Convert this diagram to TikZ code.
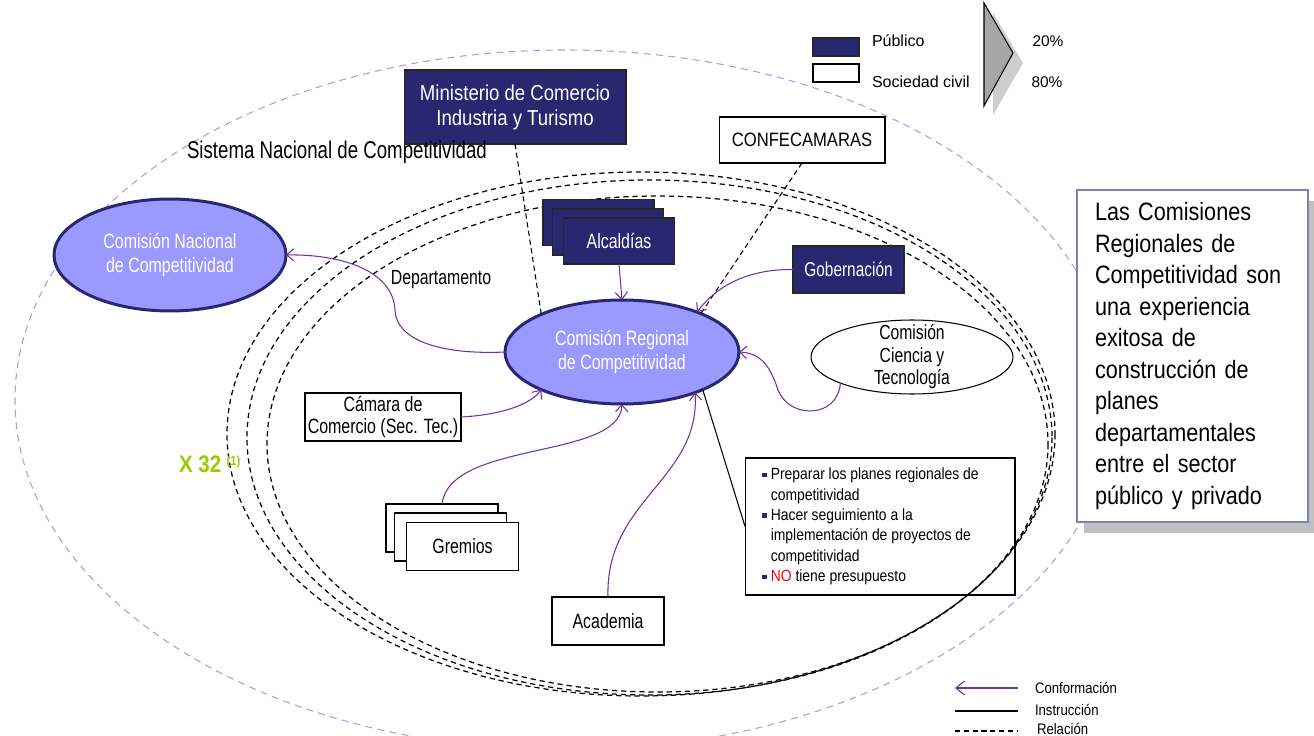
\documentclass[tikz,border=0pt]{standalone}
\usepackage{fontspec}
\setmainfont{Liberation Sans}
\newfontfamily\estrecha{Liberation Sans}[FakeStretch=0.77]
\newfontfamily\media{Liberation Sans}[FakeStretch=0.86]
\usetikzlibrary{arrows.meta,shapes.geometric,shadows}

\definecolor{navy}{RGB}{41,39,112}
\definecolor{lila}{RGB}{153,153,255}
\definecolor{morado}{RGB}{112,48,160}
\definecolor{lavanda}{RGB}{160,160,235}
\definecolor{marco}{RGB}{128,128,184}
\definecolor{sombra}{RGB}{192,192,192}
\definecolor{verde}{RGB}{153,204,0}
\definecolor{gristri}{RGB}{166,166,166}
\definecolor{gristrisombra}{RGB}{205,205,205}

\newcommand\fs[2]{\fontsize{#1}{#2}\selectfont}
\newcommand\vineta{\makebox[5pt][l]{\textcolor{navy}{\rule[0.3ex]{2.6pt}{2.6pt}}}}

\begin{document}
\begin{tikzpicture}[x=0.02cm,y=-0.02cm,
  every node/.style={inner sep=0pt, outer sep=0pt},
  comision/.style={ellipse, draw=navy, line width=1.7pt, fill=lila, text=white,
    align=center, font=\estrecha\fs{11.8}{13.4}},
  publico/.style={rectangle, draw=black!85, line width=0.6pt, fill=navy, text=white,
    align=center, font=\estrecha\fs{11.8}{13}},
  civil/.style={rectangle, draw=black, line width=0.6pt, fill=white,
    align=center, font=\estrecha\fs{11.8}{13}},
  etiqueta/.style={font=\fs{9.1}{11}},
  leyenda/.style={anchor=west, font=\media\fs{8.7}{10}},
  conforma/.style={morado, line width=0.6pt, -{Straight Barb[length=4pt,width=7pt]}},
  instruye/.style={black, line width=0.6pt},
  relaciona/.style={black, line width=0.6pt, dash pattern=on 3pt off 2pt},
  sistema/.style={lavanda, line width=0.6pt, dash pattern=on 4pt off 3pt},
  region/.style={black, line width=0.7pt, dash pattern=on 3pt off 2.2pt},
]
\useasboundingbox (0,0) rectangle (1314,736);

% outer boundary of the national system and the 32 regional commissions
\begin{scope}
  \clip (0,0) rectangle (1314,736);
  \draw[sistema] (565,400) ellipse [x radius=550, y radius=350];
  \draw[region] (641,434) ellipse [x radius=414, y radius=262];
  \draw[region] (649.5,437.5) ellipse [x radius=402.5, y radius=257.5];
  \draw[region] (657.5,444) ellipse [x radius=390.5, y radius=248];
\end{scope}

% legend: sector types
\node[publico, minimum width=0.92cm, minimum height=0.36cm] (legpub) at (836,47) {};
\node[civil, minimum width=0.92cm, minimum height=0.36cm] (legciv) at (836,73) {};
\node[anchor=west, etiqueta] (tpub) at (872,41) {Público};
\node[anchor=west, etiqueta] (tciv) at (872,82) {Sociedad civil};
\fill[gristrisombra] (993,13) -- (1023,63) -- (993,115) -- cycle;
\draw[fill=gristri, line width=0.6pt] (984,3) -- (1013,53) -- (984,106) -- cycle;
\node[etiqueta, font=\fs{8.8}{11}] (p20) at (1048,41) {20\%};
\node[etiqueta, font=\fs{8.8}{11}] (p80) at (1047,82) {80\%};

% main actors
\node[publico, minimum width=4.44cm, minimum height=1.48cm, font=\media\fs{12.3}{14.2}]
  (mincit) at (515,107) {Ministerio de Comercio\\Industria y Turismo};
\node[civil, minimum width=3.32cm, minimum height=0.92cm, font=\media\fs{11}{13}]
  (confe) at (802,140) {CONFECAMARAS};
\node[anchor=west, font=\estrecha\fs{13.8}{15}] (snc) at (187,152) {Sistema Nacional de Competitividad};

\node[comision, minimum width=4.64cm, minimum height=2.24cm]
  (cnc) at (170,255) {Comisión Nacional\\de Competitividad};
\node[comision, minimum width=4.68cm, minimum height=2.08cm]
  (crc) at (622,352) {Comisión Regional\\de Competitividad};

\node[publico, minimum width=2.22cm, minimum height=0.92cm] (alc3) at (598.5,222.5) {};
\node[publico, minimum width=2.22cm, minimum height=0.92cm] (alc2) at (608,232) {};
\node[publico, minimum width=2.22cm, minimum height=0.92cm] (alc) at (619,241) {Alcaldías};

\node[publico, minimum width=2.22cm, minimum height=0.94cm, font=\estrecha\fs{11.4}{13}]
  (gob) at (848.5,269.5) {Gobernación};

\node[ellipse, draw=black, line width=0.6pt, fill=white, inner ysep=-5pt,
  minimum width=4.04cm, minimum height=1.48cm, align=center, font=\estrecha\fs{11.6}{12.8}]
  (cyt) at (912,357) {Comisión\\Ciencia y\\Tecnología};

\node[font=\estrecha\fs{11.7}{13}] (depto) at (441,280) {Departamento};

\node[civil, minimum width=3.12cm, minimum height=0.96cm]
  (camara) at (383,417) {Cámara de\\Comercio (Sec. Tec.)};

\node[civil, minimum width=2.24cm, minimum height=0.96cm] (gre3) at (442,528) {};
\node[civil, minimum width=2.24cm, minimum height=0.96cm] (gre2) at (450.5,537) {};
\node[civil, minimum width=2.24cm, minimum height=0.96cm] (gre) at (462.5,546.5) {Gremios};

\node[civil, minimum width=2.24cm, minimum height=0.96cm] (acad) at (608,621) {Academia};

\node[anchor=west, text=verde, font=\media\bfseries\fs{13.6}{16}] (x32) at (179,464)
  {X 32\hspace{3pt}\raisebox{0.55ex}{\fs{7.5}{9}(1)}};

% functions of the regional commission
\node[draw=black, line width=0.6pt, minimum width=5.4cm, minimum height=2.74cm]
  (tareas) at (880,526.5) {%
  \begin{minipage}{4.72cm}\media\fs{9.2}{11.6}\raggedright
    {\hangindent=5pt\hangafter=1 \vineta Preparar los planes regionales de\newline competitividad\par}
    {\hangindent=5pt\hangafter=1 \vineta Hacer seguimiento a la\newline implementación de proyectos de\newline competitividad\par}
    {\hangindent=5pt\hangafter=1 \vineta\textcolor{red}{NO} tiene presupuesto\par}
  \end{minipage}};

% side note
\node[draw=marco, line width=1.1pt, fill=white, minimum width=4.62cm, minimum height=6.64cm,
  text width=3.9cm, align=left, font=\media\fs{14.3}{17.9},
  drop shadow={shadow xshift=4pt, shadow yshift=-6.5pt, fill=sombra, opacity=1}]
  (nota) at (1192.5,356) {Las Comisiones\\Regionales de\\Competitividad son\\una experiencia\\exitosa de\\construcción de\\planes\\departamentales\\entre el sector\\público y privado};

% connectors
\draw[relaciona] (mincit.south) -- (crc.155);
\draw[relaciona] (confe.south) -- (crc.26);
\draw[conforma] (gob.west) .. controls (745,269) and (715,288) .. (crc.28);
\draw[conforma] (alc.south) -- (crc.north);
\draw[conforma] (crc.west) .. controls (440,355) and (396,340) .. (395,310)
  .. controls (393,270) and (340,254) .. (cnc.east);
\draw[conforma] (camara.east) .. controls (500,415) and (530,405) .. (crc.205);
\draw[conforma] (gre3.north) .. controls (450,440) and (620,460) .. (crc.south);
\draw[conforma] (acad.north) .. controls (605,500) and (700,480) .. (crc.-29);
\draw[instruye] (tareas.west) -- (crc.-25);
\draw[conforma] (cyt.200) .. controls (838,418) and (790,420) .. (778,390)
  .. controls (770,365) and (760,353) .. (crc.east);

% legend: connector types
\coordinate (lc1) at (1018,688); \coordinate (lc2) at (955,688);
\coordinate (li1) at (955,711);  \coordinate (li2) at (1018,711);
\coordinate (lr1) at (955,731);  \coordinate (lr2) at (1018,731);
\draw[morado, line width=0.6pt, -{Straight Barb[length=5pt,width=8pt]}] (lc1) -- (lc2);
\draw[instruye] (li1) -- (li2);
\draw[relaciona] (lr1) -- (lr2);
\node[leyenda] (tconf) at (1035,688) {Conformación};
\node[leyenda] (tinst) at (1035,710) {Instrucción};
\node[leyenda] (trel) at (1037,729) {Relación};
\end{tikzpicture}
\end{document}
